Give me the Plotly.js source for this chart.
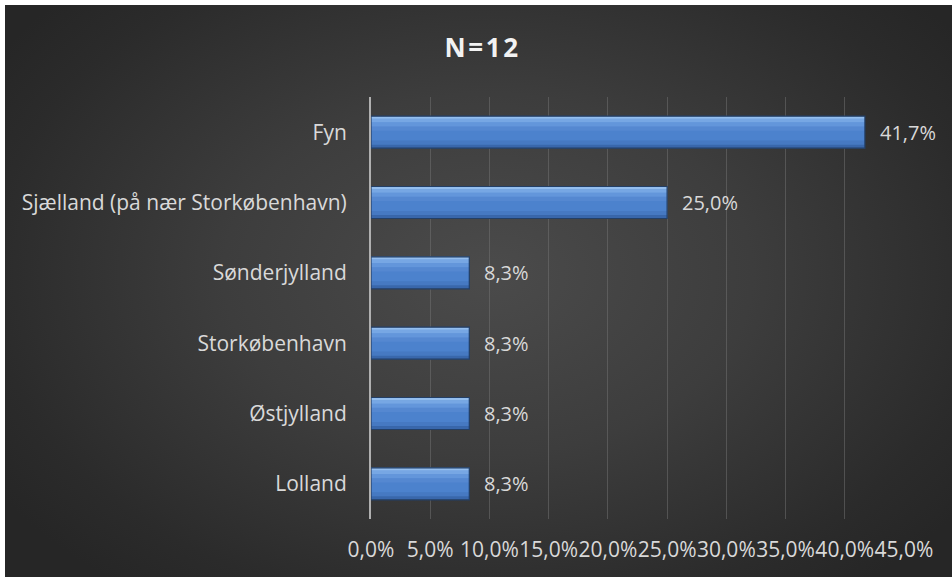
<!DOCTYPE html>
<html>
<head>
<meta charset="utf-8">
<script src="https://cdn.plot.ly/plotly-3.0.1.min.js"></script>
<style>
  html, body { margin: 0; padding: 0; background: #ffffff; }
  #chart {
    position: absolute; left: 5px; top: 5px; width: 947px; height: 572px;
    background: radial-gradient(ellipse 62% 70% at 51% 47%, #4b4b4b 0%, #3d3d3d 45%, #2b2b2b 85%, #262626 100%);
  }
</style>
</head>
<body>
<div id="chart"></div>
<script>
// Categories listed bottom-to-top
const categories = ["Lolland", "Østjylland", "Storkøbenhavn", "Sønderjylland", "Sjælland (på nær Storkøbenhavn)", "Fyn"];
const values = [8.3, 8.3, 8.3, 8.3, 25.0, 41.7];
const tickValues = [0, 5, 10, 15, 20, 25, 30, 35, 40, 45];
const titleText = "N=12";

const FONT = "'Open Sans', 'Noto Sans', sans-serif";
const TXT = "#d9d9d9";

// gradient bands across bar thickness (offset, width, colour), bottom to top
const bands = [
  [-0.2275, 0.455, "#4c82cd"],
  [-0.2275, 0.05, "rgba(35,72,130,0.45)"],
  [-0.18, 0.06, "rgba(50,95,165,0.25)"],
  [0.02, 0.06, "rgba(110,155,225,0.25)"],
  [0.08, 0.06, "rgba(135,180,240,0.4)"],
  [0.14, 0.05, "rgba(155,198,248,0.55)"],
  [0.19, 0.0375, "rgba(180,215,252,0.7)"]
];

const traces = bands.map((b, i) => ({
  type: "bar", orientation: "h", y: categories, x: values,
  offset: b[0], width: b[1],
  marker: { color: b[2], line: { width: 0 } },
  hoverinfo: i === 0 ? "x+y" : "skip"
}));
// outline on top of bands
traces.push({
  type: "bar", orientation: "h", y: categories, x: values,
  offset: -0.2275, width: 0.455,
  marker: { color: "rgba(0,0,0,0)", line: { color: "#233f66", width: 1.2 } },
  hoverinfo: "skip"
});

const annotations = categories.map((c, i) => ({
  x: values[i], y: c, xref: "x", yref: "y",
  text: values[i].toFixed(1).replace(".", ",") + "%",
  showarrow: false, xanchor: "left", yanchor: "middle", xshift: 13,
  font: { family: FONT, size: 20, color: TXT }
}));

const layout = {
  width: 947, height: 572,
  paper_bgcolor: "rgba(0,0,0,0)", plot_bgcolor: "rgba(0,0,0,0)",
  margin: { l: 366, r: 48, t: 92, b: 58 },
  barmode: "overlay",
  showlegend: false,
  separators: ",.",
  title: {
    text: "<b>" + titleText.split("").join("\u200A") + "</b>",
    x: 0.503, xanchor: "center", y: 0.925, yanchor: "middle",
    font: { family: FONT, size: 26, color: "#f2f2f2" }
  },
  xaxis: {
    range: [0, 45], tickvals: tickValues,
    ticktext: tickValues.map(v => v.toFixed(1).replace(".", ",") + "%"),
    tickangle: 0,
    showgrid: true, gridcolor: "rgba(115,115,115,0.5)", gridwidth: 1,
    zeroline: false, showline: false, ticks: "",
    ticklabelstandoff: 16,
    tickfont: { family: FONT, size: 21, color: TXT },
    fixedrange: true
  },
  yaxis: {
    type: "category", categoryorder: "array", categoryarray: categories,
    range: [-0.5, 5.5],
    showline: true, linecolor: "#b0b0b0", linewidth: 2,
    showgrid: false, zeroline: false, ticks: "",
    ticklabelstandoff: 18,
    tickfont: { family: FONT, size: 21, color: TXT },
    fixedrange: true
  },
  annotations: annotations
};

Plotly.newPlot("chart", traces, layout, { displayModeBar: false, staticPlot: true });
</script>
</body>
</html>
